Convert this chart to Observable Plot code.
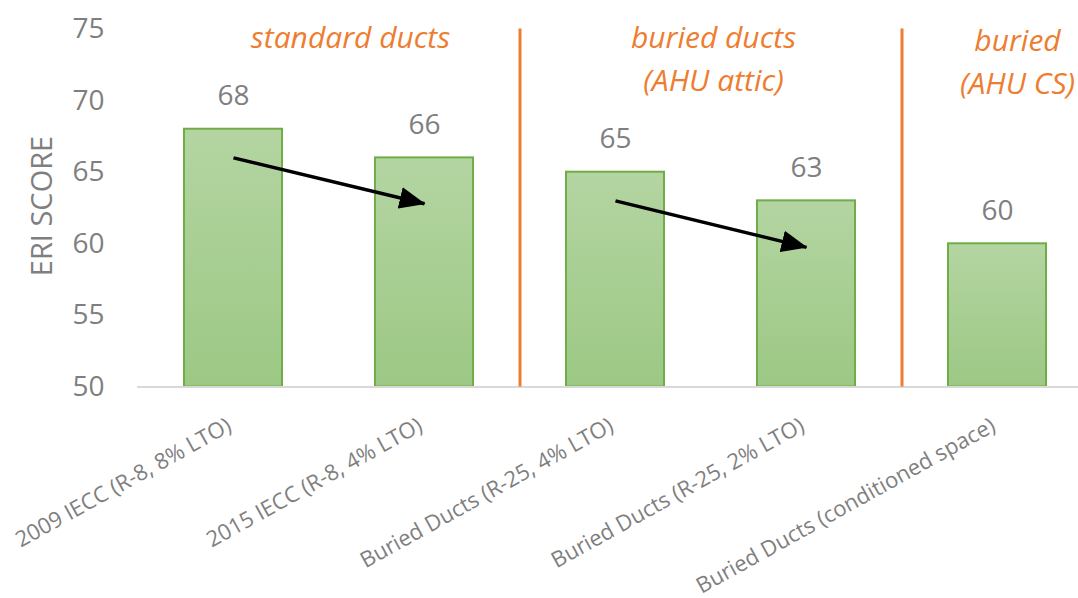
<!DOCTYPE html>
<html>
<head>
<meta charset="utf-8">
<script src="https://cdn.jsdelivr.net/npm/d3@7"></script>
<script src="https://cdn.jsdelivr.net/npm/@observablehq/plot@0.6"></script>
<style>
  html, body { margin: 0; padding: 0; background: #fff; }
  #chart svg { display: block; }
</style>
</head>
<body>
<div id="chart"></div>
<script>
// ---- data ----
const categories = [
  "2009 IECC (R-8, 8% LTO)",
  "2015 IECC (R-8, 4% LTO)",
  "Buried Ducts (R-25, 4% LTO)",
  "Buried Ducts (R-25, 2% LTO)",
  "Buried Ducts (conditioned space)"
];
const scores = [68, 66, 65, 63, 60];
const yTicks = [50, 55, 60, 65, 70, 75];
const yLabel = "ERI SCORE";

// arrows (from category / value to category / value)
const arrowFrom = [categories[0], categories[2]];
const arrowTo = [categories[1], categories[3]];
const arrowFromY = [66, 63];
const arrowToY = [62.8, 59.75];

// group separators (placed before these categories)
const separatorBefore = [categories[2], categories[4]];

// group labels
const groupLabels = ["standard ducts", "buried ducts\n(AHU attic)", "buried\n(AHU CS)"];
const groupAnchor = [categories[0], categories[2], categories[4]];

// ---- build ----
const bars = categories.map((c, i) => ({category: c, score: scores[i]}));
const arrows = arrowFrom.map((f, i) => ({from: f, to: arrowTo[i], y1: arrowFromY[i], y2: arrowToY[i]}));
const groups = groupLabels.map((t, i) => ({label: t, anchor: groupAnchor[i]}));

const W = 1078, H = 598;
const xRange = [137.5, 1092.5];
const step = (xRange[1] - xRange[0]) / categories.length;
const gray = "#7f7f7f";
const orange = "#ed7d31";
const font = "'Open Sans', sans-serif";
const groupDx = [117, 98, 20];
const groupDy = [-11, -11, -8];

const defs = () => {
  const ns = "http://www.w3.org/2000/svg";
  const d = document.createElementNS(ns, "defs");
  d.innerHTML = `
    <linearGradient id="barGrad" x1="0" y1="0" x2="0" y2="1">
      <stop offset="0" stop-color="#b4d5a2"/>
      <stop offset="1" stop-color="#9cc884"/>
    </linearGradient>
    <marker id="arrowHead" markerUnits="userSpaceOnUse" markerWidth="26" markerHeight="22"
      viewBox="0 0 26 22" refX="25" refY="11" orient="auto">
      <path d="M0,0 L26,11 L0,22 Z" fill="#000"/>
    </marker>`;
  return d;
};

const plot = Plot.plot({
  width: W,
  height: H,
  marginLeft: 137,
  marginRight: 0,
  marginTop: 28.5,
  marginBottom: H - 386.5,
  style: {fontFamily: font, color: gray, background: "#fff"},
  x: {domain: categories, range: xRange, paddingInner: 0.487, paddingOuter: 0.2435, axis: null},
  y: {domain: [50, 75], axis: null},
  marks: [
    defs,
    Plot.barY(bars, {x: "category", y1: 50, y2: "score", fill: "url(#barGrad)", stroke: "#70ad47", strokeWidth: 2}),
    Plot.ruleY([50], {stroke: "#d9d9d9", strokeWidth: 2}),
    Plot.axisY({ticks: yTicks, tickSize: 0, tickPadding: 33, fontSize: 28, fill: gray, label: null, tickFormat: d => String(d)}),
    Plot.text([yLabel], {frameAnchor: "left", textAnchor: "middle", rotate: -90, dx: -95, dy: -2, fontSize: 29, fill: gray}),
    Plot.text(bars, {x: "category", y: "score", text: d => String(d.score), dy: -33, fontSize: 28, fill: gray}),
    Plot.text(categories, {x: d => d, frameAnchor: "bottom", text: d => d, rotate: -29, textAnchor: "end", lineAnchor: "middle", dx: -4, dy: 37, fontSize: 22, fill: gray}),
    Plot.ruleX(separatorBefore, {x: d => d, y1: 75, y2: 50, dx: -step / 2, stroke: orange, strokeWidth: 3}),
    ...groups.map((g, i) => Plot.text([g], {x: d => d.anchor, frameAnchor: "top", lineAnchor: "top", text: d => d.label, dx: groupDx[i], dy: groupDy[i], fontSize: 30, fontStyle: "italic", fill: orange, lineHeight: 1.43})),
    Plot.link(arrows, {x1: "from", y1: "y1", x2: "to", y2: "y2", stroke: "#000", strokeWidth: 3.5})
  ]
});

plot.querySelectorAll('g[aria-label="link"] path').forEach(p => p.setAttribute("marker-end", "url(#arrowHead)"));
document.getElementById("chart").appendChild(plot);
</script>
</body>
</html>
